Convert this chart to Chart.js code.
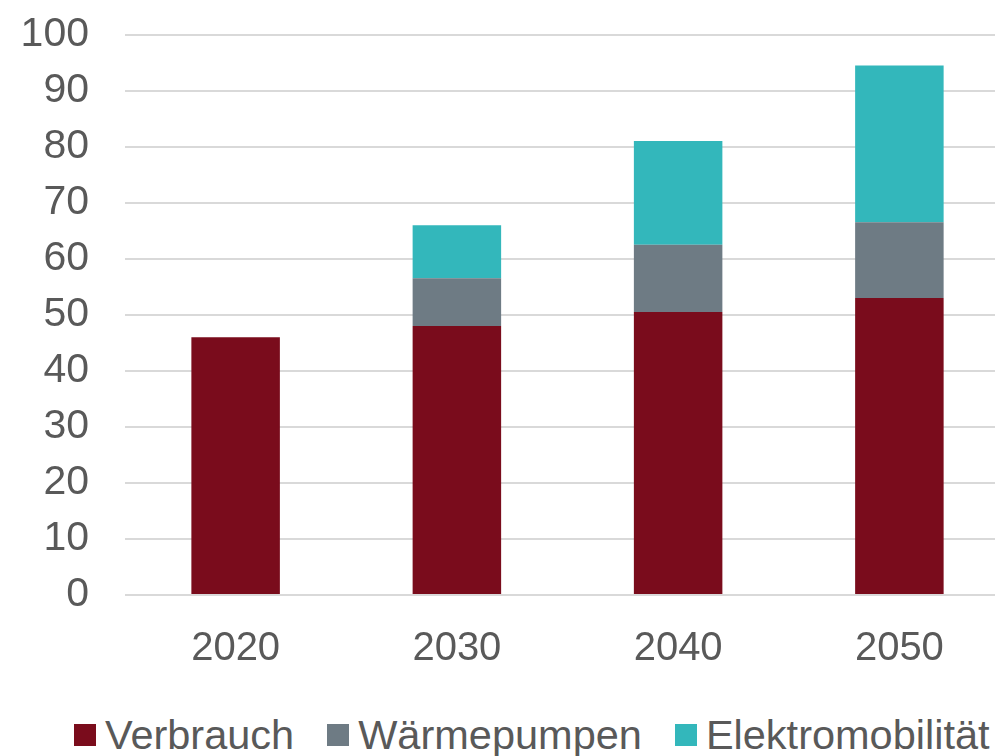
<!DOCTYPE html>
<html>
<head>
<meta charset="utf-8">
<script src="https://cdn.jsdelivr.net/npm/chart.js@4"></script>
<style>
  html, body { margin: 0; padding: 0; background: #fff; }
  body { width: 995px; height: 756px; overflow: hidden; position: relative; font-family: "Liberation Sans", Arial, sans-serif; }
  #wrap { position: absolute; left: 0; top: -26px; width: 1010px; height: 721px; }
  #legend { position: absolute; left: 74px; top: 714px; display: flex; align-items: center; font-size: 41.5px; line-height: 1; color: #595959; white-space: nowrap; }
  .item { display: flex; align-items: center; margin-right: 33px; }
  .box { width: 22px; height: 22px; margin-right: 9px; margin-top: 1px; }
</style>
</head>
<body>
<div id="wrap"><canvas id="chart"></canvas></div>
<div id="legend"></div>
<script>
// Daten
const years = ['2020', '2030', '2040', '2050'];
const verbrauch = [46, 48, 50.5, 53];
const waermepumpen = [null, 8.5, 12, 13.5];
const elektromobilitaet = [null, 9.5, 18.5, 28];

const seriesNames = ['Verbrauch', 'Wärmepumpen', 'Elektromobilität'];
const seriesColors = ['#7A0C1C', '#6E7B84', '#33B7BB'];

const textColor = '#595959';
const fontFamily = '"Liberation Sans", Arial, sans-serif';

const ctx = document.getElementById('chart').getContext('2d');
new Chart(ctx, {
  type: 'bar',
  data: {
    labels: years,
    datasets: [verbrauch, waermepumpen, elektromobilitaet].map((values, i) => ({
      label: seriesNames[i],
      data: values,
      backgroundColor: seriesColors[i],
      borderWidth: 0,
      barPercentage: 0.4,
      categoryPercentage: 1
    }))
  },
  options: {
    responsive: true,
    maintainAspectRatio: false,
    animation: false,
    layout: { padding: { top: 12, right: 0, left: 0, bottom: 0 } },
    plugins: {
      legend: { display: false },
      tooltip: { enabled: false }
    },
    scales: {
      x: {
        stacked: true,
        grid: { display: false },
        border: { display: false },
        ticks: {
          color: textColor,
          font: { family: fontFamily, size: 40 },
          padding: 22
        }
      },
      y: {
        stacked: true,
        min: 0,
        max: 100,
        afterFit: (scale) => { scale.width = 125; },
        ticks: {
          stepSize: 10,
          color: textColor,
          font: { family: fontFamily, size: 41 },
          padding: 36
        },
        grid: { color: '#D9D9D9', lineWidth: 2, drawTicks: false },
        border: { display: false }
      }
    }
  }
});

// Legende
const legend = document.getElementById('legend');
seriesNames.forEach((name, i) => {
  const item = document.createElement('div');
  item.className = 'item';
  const box = document.createElement('span');
  box.className = 'box';
  box.style.background = seriesColors[i];
  const label = document.createElement('span');
  label.textContent = name;
  item.appendChild(box);
  item.appendChild(label);
  legend.appendChild(item);
});
</script>
</body>
</html>
